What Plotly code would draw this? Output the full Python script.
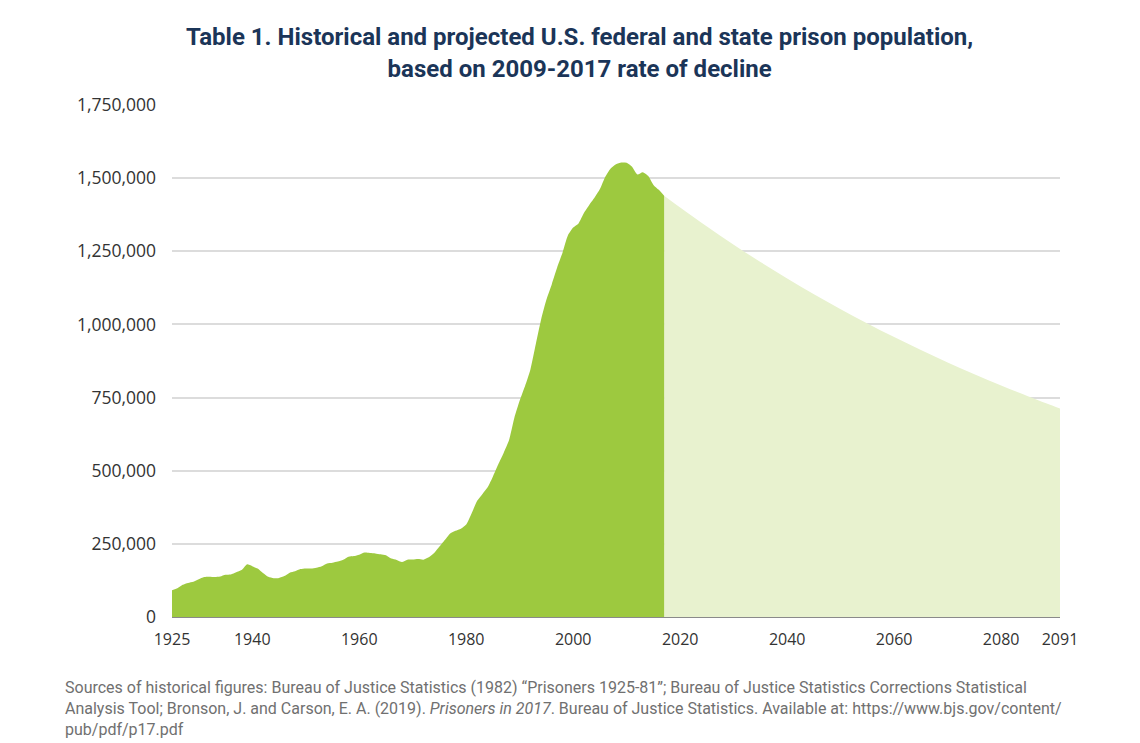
import plotly.graph_objects as go

# Historical federal + state prison population, 1925-2017
hist_years = list(range(1925, 2018))
hist_pop = [
    91669, 97991, 109983, 116390, 120496, 129453, 137082, 137997, 136810, 138316,
    144180, 145038, 152741, 160285, 179818, 173706, 165439, 150384, 137220, 132456,
    133649, 140079, 151304, 155977, 163749, 166123, 165680, 168233, 173579, 182901,
    185780, 189565, 195414, 205643, 208105, 212953, 220149, 218830, 217283, 214336,
    210895, 199654, 194896, 187914, 196007, 196429, 198061, 196092, 204211, 218466,
    240593, 262833, 285456, 294396, 301470, 315974, 353673, 395516, 419346, 443398,
    480568, 522084, 560812, 603732, 680907, 739980, 789610, 846277, 932074, 1016691,
    1085022, 1137722, 1194581, 1245402, 1304074, 1331278, 1345217, 1380516, 1408361, 1433728,
    1462866, 1504598, 1532851, 1547742, 1553574, 1552669, 1538847, 1512430, 1520403, 1507781,
    1476847, 1459948, 1439808,
]

# Projection
proj_years = [2017, 2020, 2025, 2030, 2035, 2040, 2045, 2050, 2055, 2060,
              2065, 2070, 2075, 2080, 2085, 2090, 2091]
proj_pop = [1439808, 1399300, 1334400, 1272400, 1213400, 1157000, 1103300, 1052100,
            1003300, 956700, 912300, 870000, 829600, 791100, 754400, 719300, 712500]

x_ticks = [1925, 1940, 1960, 1980, 2000, 2020, 2040, 2060, 2080, 2091]
y_ticks = [0, 250000, 500000, 750000, 1000000, 1250000, 1500000, 1750000]

title_text = ("<b>Table 1. Historical and projected U.S. federal and state prison population,"
              "<br>based on 2009-2017 rate of decline</b>")
source_text = (
    "Sources of historical figures: Bureau of Justice Statistics (1982) \u201cPrisoners 1925-81\u201d; "
    "Bureau of Justice Statistics Corrections Statistical<br>"
    "Analysis Tool; Bronson, J. and Carson, E. A. (2019). <i>Prisoners in 2017</i>. "
    "Bureau of Justice Statistics. Available at: https://www.bjs.gov/content/<br>"
    "pub/pdf/p17.pdf"
)

fig = go.Figure()

fig.add_trace(go.Scatter(
    x=proj_years, y=proj_pop, mode="none", fill="tozeroy",
    fillcolor="#E8F2CF", line=dict(shape="spline"), hoverinfo="x+y",
))
fig.add_trace(go.Scatter(
    x=hist_years, y=hist_pop, mode="none", fill="tozeroy",
    fillcolor="#9DC93F", line=dict(shape="spline", smoothing=0.6), hoverinfo="x+y",
))

fig.update_layout(
    width=1132, height=735,
    margin=dict(l=164, r=80, t=97, b=126),
    paper_bgcolor="white", plot_bgcolor="white",
    showlegend=False,
    title=dict(
        text=title_text, x=0.505, xanchor="center", xref="container",
        y=0.949, yanchor="top",
        font=dict(family="Roboto, sans-serif", size=24, color="#1B3558"),
    ),
    xaxis=dict(
        range=[1925, 2091], tickvals=x_ticks, ticktext=[str(v) for v in x_ticks],
        showgrid=False, zeroline=False, showline=True, linecolor="#8A8A8A", linewidth=1,
        tickfont=dict(family="Open Sans, Noto Sans, sans-serif", size=16, color="#333333"),
        ticks="", ticklabelstandoff=8,
    ),
    yaxis=dict(
        range=[0, 1750000], tickvals=y_ticks, tickformat=",d",
        showgrid=True, gridcolor="#DCDCDC", gridwidth=1.5, zeroline=False,
        showline=False, ticks="", ticklabelstandoff=15,
        tickfont=dict(family="Open Sans, Noto Sans, sans-serif", size=17.5, color="#333333"),
    ),
    annotations=[dict(
        text=source_text, xref="paper", yref="paper", x=-0.123, y=-0.116,
        xanchor="left", yanchor="top", align="left", showarrow=False,
        font=dict(family="Roboto, sans-serif", size=16, color="#707070"),
    )],
)

fig.write_html("out.html")
